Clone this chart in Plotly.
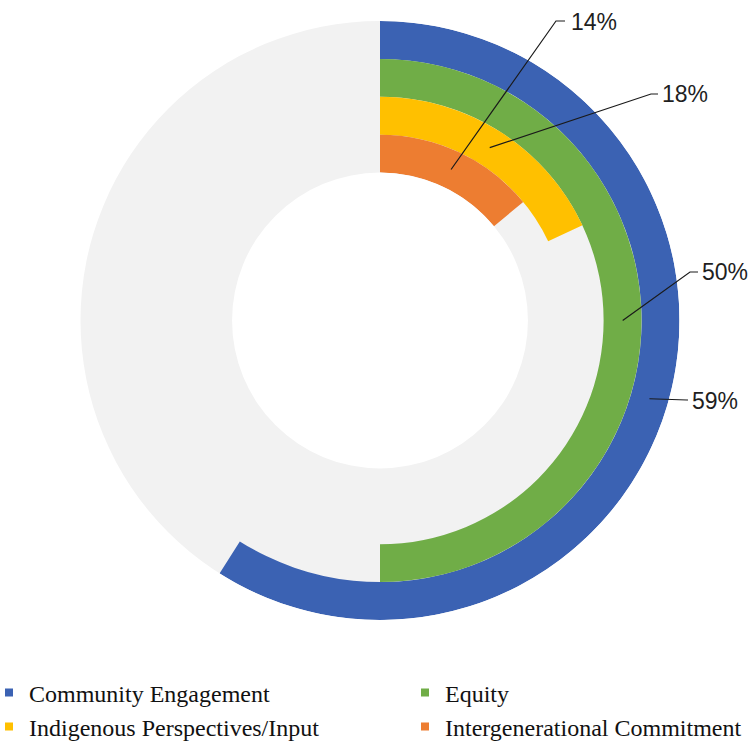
import math
import plotly.graph_objects as go

# Share of respondents mentioning each theme (percent)
categories = [
    "Community Engagement",
    "Equity",
    "Indigenous Perspectives/Input",
    "Intergenerational Commitment",
]
values = [59, 50, 18, 14]
colors = ["#3B62B3", "#70AD47", "#FFC000", "#ED7D31"]
# ring index counted from the innermost ring outward
ring_index = [3, 2, 1, 0]
value_labels = [f"{v}%" for v in values]

W, H = 756, 742
CX, CY = 380, 320.5          # centre of the rings, px
R_OUT = 299.5                # outer radius, px
HOLE = 0.494                 # hole fraction of the outer radius
N_RINGS = len(categories)

fig = go.Figure()

# one arc per theme, sweeping clockwise from 12 o'clock
for name, v, c, ri in zip(categories, values, colors, ring_index):
    fig.add_trace(go.Barpolar(
        r=[1], base=[ri], theta=[v * 3.6 / 2], width=[v * 3.6],
        marker=dict(color=c, line=dict(width=0)),
        name=name, showlegend=False, hoverinfo="name",
    ))

# legend: one entry per legend box, laid out as a 2x2 grid
legend_ids = ["legend", "legend2", "legend3", "legend4"]
legend_xy = [(-11, 693), (405, 693), (-11, 727), (405, 727)]   # px
for name, c, lid in zip(categories, colors, legend_ids):
    fig.add_trace(go.Scatterpolar(
        r=[None], theta=[None], mode="markers",
        marker=dict(symbol="square", size=8, color=c),
        name=name, legend=lid,
    ))

# leader lines from the middle of each arc to its value label
r_in = R_OUT * HOLE
thick = (R_OUT - r_in) / N_RINGS
label_pos = {      # elbow start, elbow end, text left edge (px)
    "14%": ((556, 21), (565, 21), (569, 22)),
    "18%": ((651, 94), (658, 94), (660, 94)),
    "50%": ((690, 272), (698, 272), (700, 272)),
    "59%": ((687, 400), (688, 400), (690, 401)),
}

def px(x, y):
    return x / W, 1 - y / H

for v, ri, lab in zip(values, ring_index, value_labels):
    ang = math.radians(v * 3.6 / 2)
    rm = r_in + (ri + 0.5) * thick
    sx, sy = CX + rm * math.sin(ang), CY - rm * math.cos(ang)
    (ex, ey), (hx, hy), (tx, ty) = label_pos[lab]
    p0, p1, p2 = px(sx, sy), px(ex, ey), px(hx, hy)
    fig.add_shape(
        type="path", xref="paper", yref="paper",
        path=f"M {p0[0]},{p0[1]} L {p1[0]},{p1[1]} L {p2[0]},{p2[1]}",
        line=dict(color="#1a1a1a", width=1.2),
    )
    tpx, tpy = px(tx, ty)
    fig.add_annotation(
        x=tpx, y=tpy, xref="paper", yref="paper", text=lab,
        showarrow=False, xanchor="left", yanchor="middle",
        font=dict(family="Liberation Sans", size=23, color="#1f1f1f"),
    )

legend_style = dict(
    orientation="h", xanchor="left", yanchor="middle",
    font=dict(family="Liberation Serif", size=24, color="#111111"),
    bgcolor="rgba(0,0,0,0)", itemclick=False, itemdoubleclick=False,
)
legends = {}
for lid, (lx, ly) in zip(legend_ids, legend_xy):
    legends[lid] = dict(x=lx / W, y=1 - ly / H, **legend_style)

fig.update_layout(
    width=W, height=H,
    margin=dict(l=0, r=0, t=0, b=0, autoexpand=False),
    paper_bgcolor="white",
    polar=dict(
        domain=dict(x=[(CX - R_OUT) / W, (CX + R_OUT) / W],
                    y=[1 - (CY + R_OUT) / H, 1 - (CY - R_OUT) / H]),
        hole=HOLE,
        bgcolor="#F2F2F2",
        radialaxis=dict(range=[0, N_RINGS], visible=False, showgrid=False),
        angularaxis=dict(visible=False, showgrid=False,
                         direction="clockwise", rotation=90),
    ),
    showlegend=True,
    **legends,
)

fig.write_html("out.html")
